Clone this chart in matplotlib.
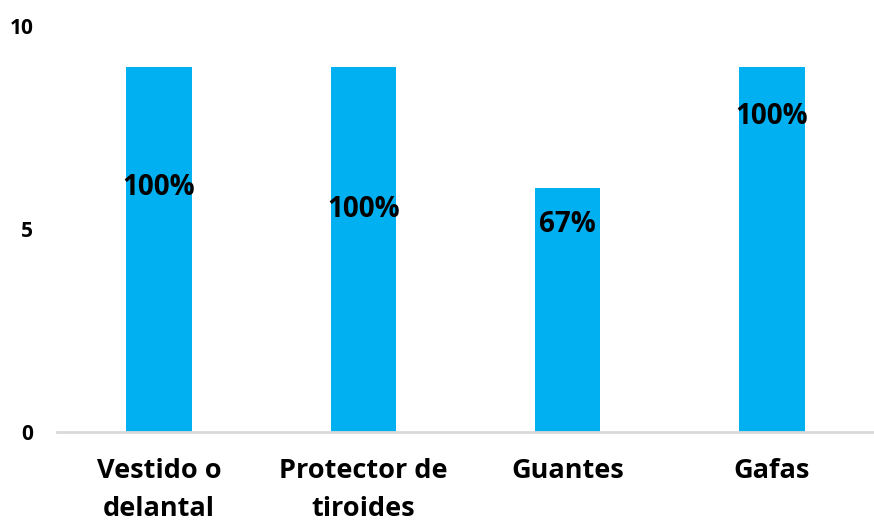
import matplotlib.pyplot as plt

categories = ["Vestido o\ndelantal", "Protector de\ntiroides", "Guantes", "Gafas"]
counts = [9, 9, 6, 9]
label_heights = [6.03, 5.49, 5.12, 7.76]
total = 9

plt.rcParams['font.family'] = ['Open Sans', 'DejaVu Sans']
plt.rcParams['font.weight'] = 'bold'

fig = plt.figure(figsize=(8.74, 5.23), dpi=100)
ax = fig.add_axes([57 / 874, 91 / 523, 817 / 874, 406 / 523])

x = range(len(categories))
ax.bar(x, counts, width=0.32, color='#00b0f0')

for i, (v, h) in enumerate(zip(counts, label_heights)):
    ax.text(i, h, f"{v / total * 100:.0f}%", ha='center', va='center',
            fontsize=20, fontweight='bold', color='black')

ax.set_xlim(-0.5, len(categories) - 0.5)
ax.set_ylim(0, 10)
ax.set_yticks([0, 5, 10])
ax.set_xticks(list(x))
ax.set_xticklabels(categories, fontsize=19.5, fontweight='bold', linespacing=1.6)
ax.tick_params(axis='y', labelsize=15, length=0, pad=17)
ax.tick_params(axis='x', length=0, pad=19)
for lbl in ax.get_yticklabels():
    lbl.set_fontweight('bold')

for side in ['top', 'right', 'left']:
    ax.spines[side].set_visible(False)
ax.spines['bottom'].set_color('#d9d9d9')
ax.spines['bottom'].set_linewidth(2)

fig.savefig('out.png', dpi=100)
